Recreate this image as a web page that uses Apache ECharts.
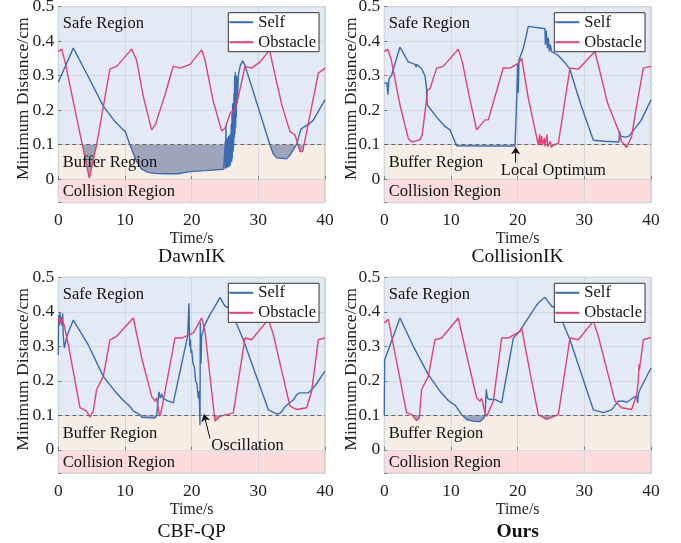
<!DOCTYPE html>
<html><head><meta charset="utf-8">
<script src="https://cdn.jsdelivr.net/npm/echarts@6/dist/echarts.min.js"></script>
<style>html,body{margin:0;padding:0;background:#fff}#c{width:681px;height:543px}</style>
</head><body><div id="c"></div>
<script>
// ---------- data ----------
const panelTitles = ['DawnIK', 'CollisionIK', 'CBF-QP', 'Ours'];
const seriesNames = ['Self', 'Obstacle'];
const xTickValues = [0, 10, 20, 30, 40];
const yTickValues = [0, 0.1, 0.2, 0.3, 0.4, 0.5];
const regionBounds = [-0.068, 0, 0.1, 0.5];
const regionNames = ['Collision Region', 'Buffer Region', 'Safe Region'];
const threshold = 0.1;

const dawnSelf = [[0,0.281],[2.25,0.38],[4.5,0.297],[6.75,0.212],[8.5,0.167],[9.75,0.143],[10.05,0.138],[10.75,0.099],[11.75,0.051],[12.5,0.029],[13.5,0.02],[14.5,0.017],[16,0.016],[18,0.016],[19.75,0.022],[22,0.025],[24.8,0.029],
 [25.0,0.03],[25.05,0.11],[25.1,0.031],[25.15,0.155],[25.2,0.032],[25.3,0.033],[25.35,0.12],[25.4,0.034],[25.5,0.035],[25.55,0.125],[25.6,0.036],[25.7,0.038],[25.75,0.13],[25.8,0.04],[25.9,0.045],[25.95,0.16],[26.0,0.05],[26.05,0.19],[26.1,0.06],[26.15,0.22],[26.2,0.08],[26.3,0.1],[26.35,0.25],[26.4,0.12],[26.45,0.3],[26.5,0.13],[26.55,0.31],[26.6,0.15],[26.65,0.27],[26.7,0.18],[26.75,0.3],[26.85,0.22],[27.0,0.3],[27.3,0.33],[27.65,0.343],[28,0.33],
 [31.75,0.099],[32.2,0.075],[32.75,0.062],[34.25,0.059],[34.75,0.07],[35.4,0.09],[35.75,0.101],[36.4,0.146],[37.75,0.162],[38.2,0.17],[40,0.23]];
const dawnObs = [[0,0.37],[0.5,0.377],[1,0.341],[4.65,0.003],[5.75,0.1],[7.75,0.32],[8.75,0.327],[11,0.377],[11.75,0.345],[12.75,0.24],[14,0.143],[14.6,0.16],[15.75,0.23],[16,0.244],[17.25,0.328],[18.25,0.322],[19.75,0.333],[21.5,0.375],[22,0.346],[23.25,0.225],[24.5,0.14],[25,0.148],[25.85,0.194],[26.5,0.2],[27.25,0.26],[28,0.327],[29,0.322],[30.25,0.34],[31.7,0.374],[32.15,0.333],[33.5,0.217],[34.75,0.138],[35.5,0.129],[36.25,0.08],[36.65,0.08],[37.25,0.138],[39,0.307],[40,0.322]];

const colSelf = [[0,0.278],[0.4,0.28],[0.55,0.245],[0.7,0.29],[1.1,0.302],[2.35,0.383],[3.6,0.34],[4.6,0.333],[4.8,0.325],[4.85,0.333],[5.6,0.32],[6.1,0.3],[6.3,0.27],[6.45,0.215],[7.85,0.18],[9.1,0.153],[9.85,0.143],[10.85,0.097],[15,0.096],[19.6,0.096],[19.8,0.2],[20.0,0.336],[20.1,0.25],[20.2,0.345],[20.85,0.38],[21.6,0.443],[24.1,0.436],[24.15,0.39],[24.3,0.43],[24.45,0.38],[24.6,0.41],[24.75,0.37],[24.9,0.39],[25.1,0.37],[26,0.36],[27,0.34],[27.8,0.32],[29.5,0.215],[31.35,0.113],[33,0.11],[35.2,0.108],[35.3,0.138],[35.45,0.125],[36.1,0.122],[36.7,0.125],[38.5,0.17],[40,0.23]];
const colObs = [[0,0.37],[0.5,0.377],[1,0.35],[2.35,0.215],[3.6,0.119],[4,0.11],[4.35,0.108],[4.8,0.112],[5.35,0.114],[5.7,0.13],[6.35,0.235],[6.5,0.26],[6.7,0.255],[6.85,0.262],[7.85,0.322],[8.85,0.327],[11.1,0.377],[11.7,0.34],[12.8,0.235],[13.85,0.143],[15.1,0.172],[15.6,0.172],[17.85,0.323],[18.85,0.322],[20.1,0.336],[20.6,0.35],[21.6,0.235],[23.1,0.099],[23.3,0.13],[23.4,0.1],[23.6,0.125],[23.7,0.098],[24,0.12],[24.1,0.095],[24.4,0.13],[24.5,0.094],[24.9,0.11],[25.0,0.093],[25.5,0.1],[26.1,0.104],[27.85,0.322],[29.1,0.319],[31.1,0.36],[31.6,0.37],[32.1,0.331],[33.5,0.22],[35.1,0.143],[35.6,0.109],[36.35,0.092],[37.1,0.124],[37.6,0.186],[38.85,0.322],[40,0.327]];

const cbfSelf = [[0,0.275],[0.05,0.39],[0.15,0.36],[0.25,0.397],[0.35,0.37],[0.45,0.385],[0.55,0.36],[0.65,0.395],[0.75,0.33],[0.9,0.295],[1.3,0.33],[2.25,0.376],[4.5,0.304],[6.75,0.213],[8.5,0.17],[9.75,0.143],[10.75,0.126],[11.25,0.112],[12.25,0.102],[12.5,0.094],[14.5,0.092],[14.75,0.1],[15.0,0.105],[15.1,0.168],[15.3,0.15],[15.5,0.162],[15.7,0.15],[16,0.146],[16.4,0.142],[16.75,0.14],[17.25,0.136],[17.5,0.141],[19.4,0.33],[19.6,0.425],[19.7,0.3],[19.8,0.32],[19.9,0.28],[20.0,0.29],[20.2,0.25],[20.4,0.24],[20.6,0.2],[20.8,0.19],[21.0,0.15],[21.1,0.17],[21.2,0.12],[21.25,0.071],[21.3,0.37],[21.4,0.25],[21.5,0.33],[21.65,0.334],[22,0.363],[22.75,0.392],[23.5,0.416],[24.25,0.442],[25,0.416],[25.75,0.411],[27.75,0.319],[31.5,0.116],[32.75,0.104],[33.25,0.106],[33.6,0.113],[34,0.125],[34.3,0.13],[34.6,0.135],[35,0.14],[35.4,0.148],[35.75,0.16],[36.25,0.165],[37.5,0.165],[38.5,0.185],[40,0.228]];
const cbfObs = [[0,0.373],[0.2,0.37],[0.3,0.385],[0.4,0.365],[0.5,0.38],[0.9,0.36],[1.5,0.305],[3.25,0.122],[4.25,0.112],[4.75,0.095],[5.25,0.112],[5.75,0.175],[6.75,0.213],[7.75,0.319],[8.75,0.329],[11.25,0.382],[12.5,0.267],[14,0.155],[14.5,0.141],[14.75,0.151],[15,0.117],[15.25,0.098],[15.5,0.117],[17.5,0.324],[18.5,0.324],[20.25,0.339],[21.5,0.382],[22,0.344],[23.5,0.083],[24.25,0.097],[26.25,0.107],[28,0.324],[29,0.319],[31.5,0.378],[32.25,0.334],[34.75,0.126],[35.75,0.117],[37.25,0.122],[38,0.17],[39,0.319],[40,0.324]];

const oursSelf = [[0,0.1],[0.05,0.26],[0.35,0.276],[2.35,0.382],[4.35,0.3],[6.6,0.218],[8.35,0.17],[9.6,0.143],[10.1,0.136],[10.6,0.13],[11.6,0.102],[12.35,0.088],[13.35,0.083],[14.35,0.082],[14.95,0.093],[15.1,0.1],[15.2,0.105],[15.3,0.175],[15.45,0.15],[15.6,0.155],[15.8,0.146],[16.6,0.146],[17.6,0.136],[19.35,0.324],[20.35,0.344],[20.6,0.353],[22.6,0.412],[23.1,0.426],[24.1,0.442],[25.1,0.416],[25.85,0.411],[27.85,0.319],[31.35,0.116],[32.85,0.108],[34.1,0.116],[35.1,0.141],[35.85,0.141],[36.35,0.138],[37.35,0.151],[37.85,0.156],[38.0,0.136],[38.1,0.16],[38.35,0.175],[40,0.237]];
const oursObs = [[0,0.368],[0.6,0.378],[1.35,0.305],[3.35,0.107],[4.1,0.102],[4.85,0.085],[5.25,0.093],[5.6,0.175],[6.6,0.213],[7.6,0.319],[8.6,0.324],[11.1,0.382],[12.4,0.27],[13.85,0.151],[14.35,0.141],[14.6,0.149],[15.1,0.107],[15.35,0.097],[16.35,0.141],[17.6,0.324],[18.6,0.324],[20.35,0.344],[20.6,0.353],[21.9,0.22],[23.1,0.102],[24.35,0.088],[26.1,0.102],[27.85,0.324],[29.1,0.319],[31.35,0.373],[32.1,0.329],[34.6,0.141],[35.6,0.122],[37.1,0.117],[37.85,0.16],[38.1,0.2],[38.2,0.247],[38.25,0.23],[38.85,0.319],[40,0.326]];

// annotations: [panel, text, textAt, arrowFrom, arrowTo]
const annotations = [
  [1, 'Local Optimum', [25.35, 0.025], [19.7, 0.048], [19.7, 0.093]],
  [2, 'Oscillation', [28.38, 0.013], [22.75, 0.033], [21.85, 0.103]]
];

const panelData = [[dawnSelf, dawnObs], [colSelf, colObs], [cbfSelf, cbfObs], [oursSelf, oursObs]];

// ---------- style / layout ----------
const FONT = '"Liberation Serif", "Times New Roman", serif';
const COLORS = ['#3a6cb3', '#de4275'];
const FILL = '#9ea5bb';
const BG = ['#fcdcdc', '#f6eee4', '#e3e9f5'];
const W = 266.7, H = 196;
const grids = [
  {left: 58.3, top: 6.7, yName: 35, title: 249.8, bold: false},
  {left: 384.3, top: 6.7, yName: 32.6, title: 249.8, bold: false},
  {left: 58.3, top: 277.3, yName: 35, title: 254.2, bold: false},
  {left: 384.3, top: 277.3, yName: 32.6, title: 254.2, bold: true}
];

function belowRuns(arr, th) {
  const runs = []; let cur = null;
  for (let i = 0; i < arr.length; i++) {
    const [x, y] = arr[i];
    if (i > 0) {
      const [x0, y0] = arr[i - 1];
      if ((y0 < th) !== (y < th)) {
        const xc = x0 + (th - y0) * (x - x0) / (y - y0);
        if (cur) { cur.push([xc, th]); runs.push(cur); cur = null; }
        else { cur = [[xc, th]]; }
      }
    }
    if (y < th) { if (!cur) cur = [[x, th]]; cur.push([x, y]); }
  }
  if (cur) { cur.push([arr[arr.length - 1][0], th]); runs.push(cur); }
  return runs;
}

const option = {
  animation: false,
  backgroundColor: '#fff',
  grid: grids.map(g => ({left: g.left, top: g.top, width: W, height: H, show: true, borderColor: '#b8b8b8', borderWidth: 1, backgroundColor: 'transparent', containLabel: false, outerBoundsMode: 'none'})),
  xAxis: grids.map((g, i) => ({
    type: 'value', gridIndex: i, min: xTickValues[0], max: xTickValues[xTickValues.length - 1], interval: 10,
    axisLine: {show: false}, axisTick: {show: true, inside: true, length: 3, lineStyle: {color: '#777'}},
    axisLabel: {margin: 9, fontFamily: FONT, fontSize: 17.5, color: '#222'},
    splitLine: {show: true, lineStyle: {color: '#d2d6dd', width: 1}}
  })),
  yAxis: grids.map((g, i) => ({
    type: 'value', gridIndex: i, min: regionBounds[0], max: regionBounds[3], splitNumber: 5,
    axisLine: {show: false}, axisTick: {show: true, inside: true, length: 3, lineStyle: {color: '#777'}},
    axisLabel: {margin: 4, fontFamily: FONT, fontSize: 17.5, color: '#222', showMinLabel: true,
      formatter: v => yTickValues.some(t => Math.abs(t - v) < 1e-6) ? String(+v.toFixed(1)) : ''},
    splitLine: {show: true, lineStyle: {color: '#d2d6dd', width: 1}}
  })),
  legend: grids.map(g => ({
    left: g.left + 170, top: g.top + 6, orient: 'vertical', data: seriesNames, selectedMode: false,
    backgroundColor: '#fff', borderColor: '#333', borderWidth: 1, borderRadius: 0, padding: [1, 3, 1, 1],
    itemGap: 3, itemWidth: 24, itemHeight: 2, icon: 'rect',
    textStyle: {fontFamily: FONT, fontSize: 16.5, color: '#111'}
  })),
  graphic: [],
  series: []
};

grids.forEach((g, i) => {
  // background regions
  option.series.push({
    type: 'line', xAxisIndex: i, yAxisIndex: i, data: [], z: -1, silent: true,
    markArea: {
      silent: true, z: -1, label: {show: false},
      data: [0, 1, 2].map(k => [{yAxis: regionBounds[k], itemStyle: {color: BG[k]}}, {yAxis: regionBounds[k + 1]}])
    }
  });
  // region labels (drawn above the shaded fills)
  option.series.push({
    type: 'line', xAxisIndex: i, yAxisIndex: i, data: [], z: 10, silent: true,
    markArea: {
      silent: true, z: 10,
      data: [0, 1, 2].map(k => [{yAxis: regionBounds[k], itemStyle: {color: 'rgba(0,0,0,0)'},
        label: {show: true, formatter: regionNames[k], position: k === 2 ? 'insideTopLeft' : 'insideLeft',
          distance: 4.5, offset: k === 2 ? [0, 4] : [0, 1], fontFamily: FONT, fontSize: 16.5, color: '#111'}},
        {yAxis: regionBounds[k + 1]}])
    }
  });
  // shaded areas where a distance drops below the threshold
  panelData[i].forEach((arr, s) => {
    const runs = belowRuns(arr, threshold);
    option.series.push({
      type: 'custom', xAxisIndex: i, yAxisIndex: i, z: 2, silent: true, clip: true,
      data: runs.map((r, k) => [r[0][0], threshold, k]),
      encode: {x: 0, y: 1},
      renderItem: (params, api) => {
        const r = runs[api.value(2)];
        return {type: 'polygon', shape: {points: r.map(p => api.coord(p))}, style: {fill: FILL}};
      }
    });
  });
  // lines
  panelData[i].forEach((arr, s) => {
    const ser = {
      type: 'line', name: seriesNames[s], xAxisIndex: i, yAxisIndex: i, data: arr, z: 3,
      showSymbol: false, symbol: 'none', smooth: false, color: COLORS[s],
      lineStyle: {color: COLORS[s], width: 1.4}
    };
    if (s === 0) {
      ser.markLine = {silent: true, z: 4, symbol: ['none', 'none'], label: {show: false},
        lineStyle: {type: [4, 3], color: '#666', width: 1.2}, data: [{yAxis: threshold}]};
    }
    option.series.push(ser);
  });
  // annotations
  annotations.filter(a => a[0] === i).forEach(a => {
    option.series.push({
      type: 'line', xAxisIndex: i, yAxisIndex: i, data: [], z: 11, silent: true,
      markLine: {silent: true, z: 11, symbol: ['none', 'arrow'], symbolSize: 7, label: {show: false},
        lineStyle: {type: 'solid', color: '#111', width: 1},
        data: [[{coord: a[3]}, {coord: a[4]}]]},
      markPoint: {silent: true, z: 11, symbol: 'circle', symbolSize: 1, itemStyle: {color: 'rgba(0,0,0,0)'},
        label: {show: true, position: 'inside', formatter: a[1], fontFamily: FONT, fontSize: 16.5, color: '#111'},
        data: [{coord: a[2], name: a[1]}]}
    });
  });
  // axis names and panel titles
  option.graphic.push({type: 'text', x: g.left - g.yName, y: g.top + 92, rotation: Math.PI / 2,
    style: {text: 'Minimum Distance/cm', fill: '#222', font: '17.6px ' + FONT, textAlign: 'center', textVerticalAlign: 'middle', align: 'center', verticalAlign: 'middle'}});
  option.graphic.push({type: 'text', x: g.left + W / 2, y: g.top + H + 36.3,
    style: {text: 'Time/s', fill: '#222', font: '16px ' + FONT, textAlign: 'center', textVerticalAlign: 'middle', align: 'center', verticalAlign: 'middle'}});
  option.graphic.push({type: 'text', x: g.left + W / 2, y: g.top + g.title,
    style: {text: panelTitles[i], fill: '#111', font: (g.bold ? 'bold ' : '') + '19.5px ' + FONT, textAlign: 'center', textVerticalAlign: 'middle', align: 'center', verticalAlign: 'middle'}});
});

const chart = echarts.init(document.getElementById('c'), null, {renderer: 'canvas'});
chart.setOption(option);
</script>
</body></html>
